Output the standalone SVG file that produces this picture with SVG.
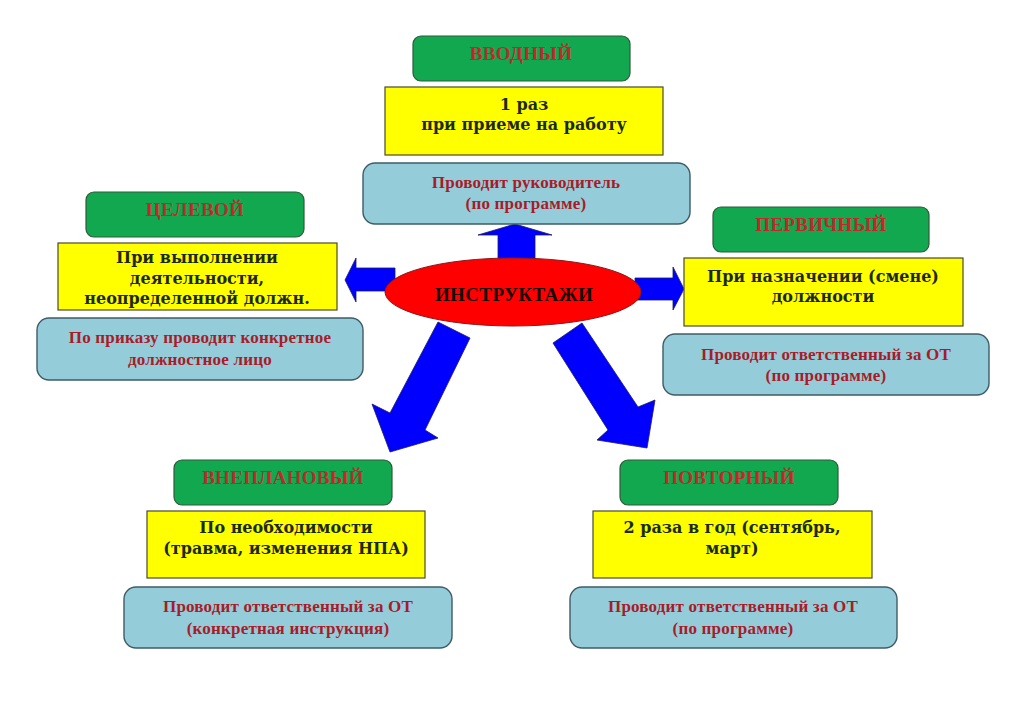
<svg xmlns="http://www.w3.org/2000/svg" width="1024" height="720" viewBox="0 0 1024 720">
<style>
.g{fill:#12a850;stroke:#2f5a3a;stroke-width:1.2}
.y{fill:#ffff00;stroke:#4a4a30;stroke-width:1.2}
.b{fill:#94cdd9;stroke:#3e5c66;stroke-width:1.4}
text{font-family:"Liberation Serif","Times New Roman",serif;font-weight:bold;text-anchor:middle}
.tt{fill:#c0282a;font-size:19px;letter-spacing:0.3px}
.yt{fill:#1c2a14;font-family:"DejaVu Serif",serif;font-size:16px}
.bt{fill:#a81c2a;font-size:17px;letter-spacing:0.2px}
.arr{fill:#0000ff;stroke:#1a1a6a;stroke-width:0.8}
</style>
<rect width="1024" height="720" fill="#ffffff"/>
<g id="connectors">
<polygon class="arr" points="515,224 552,235 535,235 535,265 498,265 498,235 478,235"/>
<polygon class="arr" points="345,280 356,258 356,268 395,268 395,291 356,291 356,302"/>
<polygon class="arr" points="684,289 673,310 673,300 635,300 635,278 673,278 673,267"/>
<polygon class="arr" points="438,322 470,338 425,430 438,438 390,452 372,404 390,413"/>
<polygon class="arr" points="553,343 582,323 638,407 655,400 647,448 597,440 608,430"/>
</g>
<g id="center">
<ellipse cx="513" cy="292" rx="128" ry="34" fill="#ff0000" stroke="#8a1a1a" stroke-width="1"/>
<text x="514" y="301" style="fill:#1a0a0a;font-size:19px;letter-spacing:0.4px">ИНСТРУКТАЖИ</text>
</g>
<g id="vvodny">
<rect class="g" x="413" y="36" width="217" height="45" rx="8"/>
<text class="tt" x="521" y="60">ВВОДНЫЙ</text>
<rect class="y" x="385" y="87" width="278" height="68"/>
<text class="yt" x="524" y="110">1 раз</text>
<text class="yt" x="524" y="130">при приеме на работу</text>
<rect class="b" x="363" y="163" width="327" height="61" rx="12"/>
<text class="bt" x="526" y="188">Проводит руководитель</text>
<text class="bt" x="526" y="209">(по программе)</text>
</g>
<g id="tselevoy">
<rect class="g" x="86" y="192" width="218" height="45" rx="8"/>
<text class="tt" x="195" y="216">ЦЕЛЕВОЙ</text>
<rect class="y" x="58" y="243" width="279" height="67"/>
<text class="yt" x="197" y="263">При выполнении</text>
<text class="yt" x="197" y="284">деятельности,</text>
<text class="yt" x="197" y="304">неопределенной должн.</text>
<rect class="b" x="37" y="318" width="326" height="62" rx="12"/>
<text class="bt" x="200" y="343">По приказу проводит конкретное</text>
<text class="bt" x="200" y="365">должностное лицо</text>
</g>
<g id="pervichny">
<rect class="g" x="713" y="207" width="216" height="45" rx="8"/>
<text class="tt" x="821" y="231">ПЕРВИЧНЫЙ</text>
<rect class="y" x="684" y="258" width="279" height="68"/>
<text class="yt" x="823" y="282">При назначении (смене)</text>
<text class="yt" x="823" y="302">должности</text>
<rect class="b" x="663" y="334" width="326" height="61" rx="12"/>
<text class="bt" x="826" y="360">Проводит ответственный за ОТ</text>
<text class="bt" x="826" y="381">(по программе)</text>
</g>
<g id="vneplanovy">
<rect class="g" x="174" y="460" width="218" height="45" rx="8"/>
<text class="tt" x="283" y="484">ВНЕПЛАНОВЫЙ</text>
<rect class="y" x="147" y="511" width="278" height="67"/>
<text class="yt" x="286" y="533">По необходимости</text>
<text class="yt" x="286" y="554">(травма, изменения НПА)</text>
<rect class="b" x="124" y="587" width="328" height="61" rx="12"/>
<text class="bt" x="288" y="612">Проводит ответственный за ОТ</text>
<text class="bt" x="288" y="634">(конкретная инструкция)</text>
</g>
<g id="povtorny">
<rect class="g" x="620" y="460" width="218" height="45" rx="8"/>
<text class="tt" x="729" y="484">ПОВТОРНЫЙ</text>
<rect class="y" x="593" y="511" width="279" height="67"/>
<text class="yt" x="732" y="533">2 раза в год (сентябрь,</text>
<text class="yt" x="732" y="554">март)</text>
<rect class="b" x="570" y="587" width="327" height="61" rx="12"/>
<text class="bt" x="733" y="612">Проводит ответственный за ОТ</text>
<text class="bt" x="733" y="634">(по программе)</text>
</g>
</svg>
